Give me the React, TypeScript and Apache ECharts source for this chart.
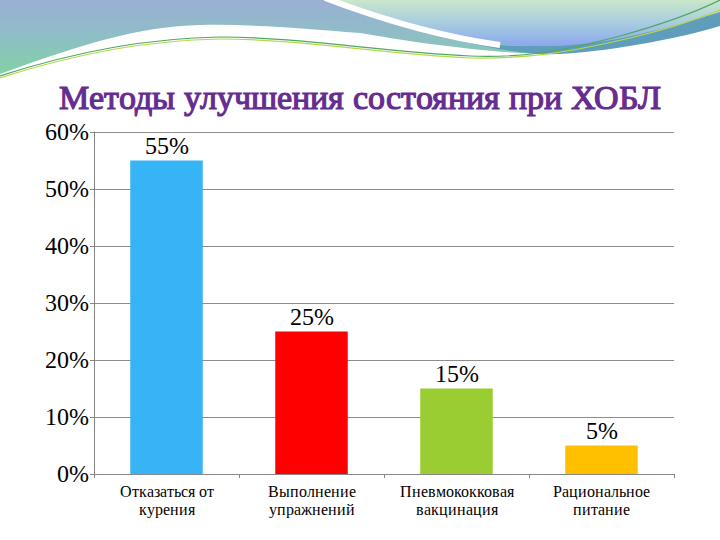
import React, { useEffect, useRef } from "react";
import * as echarts from "echarts";

const categories = ["Отказаться от\nкурения", "Выполнение\nупражнений", "Пневмококковая\nвакцинация", "Рациональное\nпитание"];
const values = [55, 25, 15, 5];
const barColors = ["#36B4F5", "#FF0000", "#9ACD32", "#FFC000"];
const yTicks = { min: 0, max: 60, interval: 10 };
const titleText = "Методы улучшения состояния при ХОБЛ";

const SERIF = "LSerif, Liberation Serif, Tinos, serif";

const bandPath = "M0,0 L720,0 L720,24 C680,36 620,50 560,53 C520,55 480,50 430,44 C400,40 380,36 360,33 C300,28 250,24 200,25 C140,26 80,45 0,74 Z";
const lensPath = "M330,0 C380,18 440,36 500,44 C540,48 580,47 627,37 C670,28 700,18 720,12 L720,0 Z";
const darkPath = "M470,43 C540,50 600,45 650,30 C690,18 710,10 720,8 L720,26 C680,38 620,50 560,54 C530,55 500,50 470,43 Z";
const stripePath = "M325,-2 C375,17 435,36 500,45";
const line1Path = "M0,76 C80,50 150,38 220,37 C300,37 380,52 470,56 C520,58 560,52 620,36 C670,22 700,10 720,0";
const line2Path = "M0,78 C80,52 150,40 220,39 C300,39 380,54 470,58 C530,59 570,52 630,38 C680,26 705,16 720,10";

let registered = false;
function registerShapes() {
  if (registered) return;
  registered = true;
  echarts.graphic.registerShape("band", echarts.graphic.extendPath(bandPath, {}) as any);
  echarts.graphic.registerShape("lens", echarts.graphic.extendPath(lensPath, {}) as any);
  echarts.graphic.registerShape("darkband", echarts.graphic.extendPath(darkPath, {}) as any);
  echarts.graphic.registerShape("stripe", echarts.graphic.extendPath(stripePath, {}) as any);
  echarts.graphic.registerShape("wline1", echarts.graphic.extendPath(line1Path, {}) as any);
  echarts.graphic.registerShape("wline2", echarts.graphic.extendPath(line2Path, {}) as any);
}

function injectFontFace() {
  if (typeof document === "undefined" || document.getElementById("lserif-face")) return;
  const st = document.createElement("style");
  st.id = "lserif-face";
  st.textContent =
    '@font-face{font-family:"LSerif";font-weight:400;src:local("Liberation Serif"),local("LiberationSerif"),local("LiberationSerif-Regular"),local("Tinos"),local("Tinos-Regular");}';
  document.head.appendChild(st);
}

function buildOption() {
  return {
    animation: false,
    backgroundColor: "#ffffff",
    textStyle: { fontFamily: SERIF },
    graphic: [
      {
        type: "band",
        x: 0,
        y: 0,
        z: 0,
        style: {
          fill: new echarts.graphic.LinearGradient(0, 0, 0, 1, [
            { offset: 0, color: "#9AAFD6" },
            { offset: 0.55, color: "#8DC0C2" },
            { offset: 1, color: "#80D2A2" },
          ]),
        },
      },
      { type: "darkband", x: 0, y: 0, z: 1, style: { fill: "#5E9EBA" } },
      {
        type: "lens",
        x: 0,
        y: 0,
        z: 2,
        style: {
          fill: new echarts.graphic.LinearGradient(0, 0, 0, 1, [
            { offset: 0, color: "#C9E7C9" },
            { offset: 0.5, color: "#A8CCE0" },
            { offset: 1, color: "#8AA8EC" },
          ]),
        },
      },
      { type: "stripe", x: 0, y: 0, z: 3, style: { fill: null, stroke: "#ffffff", lineWidth: 6 } },
      { type: "wline1", x: 0, y: 0, z: 4, style: { fill: null, stroke: "#4FA862", lineWidth: 1.2 } },
      { type: "wline2", x: 0, y: 0, z: 4, style: { fill: null, stroke: "#B6D84A", lineWidth: 1.2 } },
      {
        type: "text",
        left: "center",
        top: 80,
        z: 5,
        style: {
          text: titleText,
          fill: "#662D91",
          stroke: "#662D91",
          lineWidth: 1.2,
          fontFamily: SERIF,
          fontSize: 34,
        },
      },
    ],
    grid: { left: 94, right: 46, top: 132, bottom: 66, containLabel: false },
    xAxis: {
      type: "category",
      data: categories,
      axisLine: { show: true, lineStyle: { color: "#868686" } },
      axisTick: { show: true, alignWithLabel: false, length: 4, lineStyle: { color: "#868686" } },
      axisLabel: {
        fontFamily: SERIF,
        fontSize: 16,
        lineHeight: 18,
        color: "#000",
        margin: 8,
        interval: 0,
      },
    },
    yAxis: {
      type: "value",
      min: yTicks.min,
      max: yTicks.max,
      interval: yTicks.interval,
      axisLine: { show: true, lineStyle: { color: "#868686" } },
      axisTick: { show: true, length: 4, lineStyle: { color: "#868686" } },
      splitLine: { show: true, lineStyle: { color: "#8C8C8C", width: 1 } },
      axisLabel: {
        formatter: "{value}%",
        fontFamily: SERIF,
        fontSize: 24,
        color: "#000",
        margin: 5,
      },
    },
    series: [
      {
        type: "bar",
        barWidth: "50%",
        data: values.map((v, i) => ({ value: v, itemStyle: { color: barColors[i] } })),
        label: {
          show: true,
          position: "top",
          distance: 3,
          formatter: "{c}%",
          fontFamily: SERIF,
          fontSize: 24,
          color: "#000",
        },
      },
    ],
  };
}

export default function App() {
  const ref = useRef<HTMLDivElement>(null);
  useEffect(() => {
    if (!ref.current) return;
    injectFontFace();
    registerShapes();
    let disposed = false;
    const chart = echarts.init(ref.current, undefined, { renderer: "svg" });
    chart.setOption(buildOption() as any);
    const redraw = () => {
      if (disposed) return;
      chart.setOption(buildOption() as any, true);
    };
    try {
      (document as any).fonts
        .load("24px LSerif")
        .then(redraw)
        .catch(() => {});
    } catch (e) {}
    const t = window.setTimeout(redraw, 150);
    return () => {
      disposed = true;
      window.clearTimeout(t);
      chart.dispose();
    };
  }, []);
  return <div ref={ref} style={{ width: 720, height: 540, position: "absolute", left: 0, top: 0 }} />;
}
